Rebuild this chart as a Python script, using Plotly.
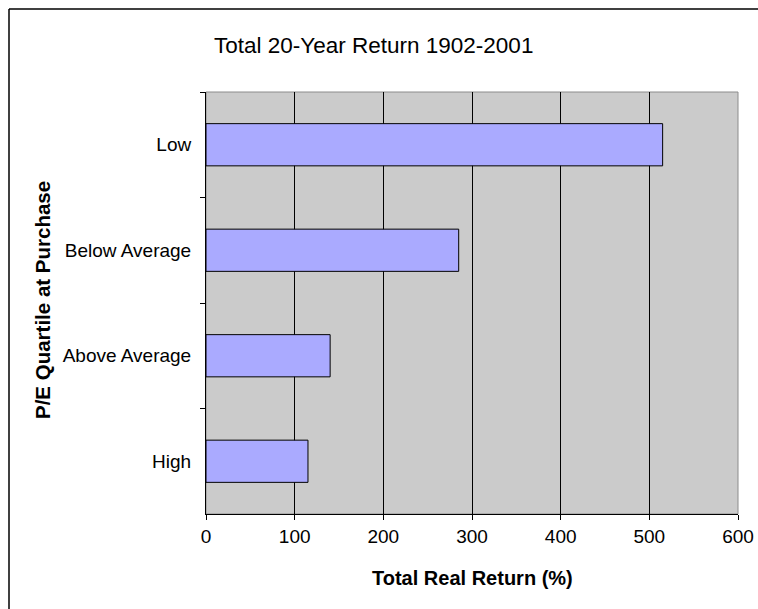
import plotly.graph_objects as go

# P/E quartile at purchase and the total real return over the following 20 years
quartiles = ["Low", "Below Average", "Above Average", "High"]
returns_pct = [515, 285, 140, 115]
x_ticks = [0, 100, 200, 300, 400, 500, 600]

FONT = "Liberation Sans, Arial, sans-serif"

fig = go.Figure(
    go.Bar(
        x=returns_pct,
        y=quartiles,
        orientation="h",
        marker=dict(color="#aaaaff", line=dict(color="#000000", width=1)),
        hoverinfo="x+y",
    )
)

fig.update_layout(
    width=758,
    height=609,
    margin=dict(l=206, r=20, t=92, b=95),
    paper_bgcolor="#ffffff",
    plot_bgcolor="#cbcbcb",
    bargap=0.6,
    showlegend=False,
    font=dict(family=FONT, size=19, color="#000000"),
)

fig.update_xaxes(
    range=[0, 600],
    tickvals=x_ticks,
    ticktext=[str(v) for v in x_ticks],
    showgrid=True,
    gridcolor="#000000",
    gridwidth=1,
    zeroline=False,
    showline=True,
    linecolor="#000000",
    linewidth=1,
    ticks="outside",
    ticklen=5,
    tickcolor="#000000",
    tickfont=dict(size=19),
    automargin=False,
)

fig.update_yaxes(
    type="category",
    categoryorder="array",
    categoryarray=quartiles,
    autorange="reversed",
    tickson="boundaries",
    showgrid=False,
    zeroline=False,
    showline=True,
    linecolor="#000000",
    linewidth=1,
    ticks="outside",
    ticklen=5,
    tickcolor="#000000",
    ticklabelstandoff=10,
    tickfont=dict(size=19),
    automargin=False,
)

# plot-area frame (top and right edges in grey)
fig.add_shape(type="rect", xref="paper", yref="paper", x0=0, x1=1, y0=0, y1=1,
              line=dict(color="#8c8c8c", width=1), layer="below")

# outer chart border: only its left and top edges fall inside the page
left_px, top_px = 9, 9
bx = (left_px - 206) / 532
by = (514 - top_px) / 422
fig.add_shape(type="line", xref="paper", yref="paper", x0=bx, x1=bx, y0=by, y1=-0.3,
              line=dict(color="#000000", width=1.5))
fig.add_shape(type="line", xref="paper", yref="paper", x0=bx, x1=1.2, y0=by, y1=by,
              line=dict(color="#000000", width=1.5))

fig.add_annotation(text="Total 20-Year Return 1902-2001", xref="paper", yref="paper",
                   x=(373 - 206) / 532, y=(514 - 45) / 422, xanchor="center", yanchor="middle",
                   showarrow=False, font=dict(family=FONT, size=22.5))
fig.add_annotation(text="<b>Total Real Return (%)</b>", xref="paper", yref="paper",
                   x=0.5, y=(514 - 578) / 422, xanchor="center", yanchor="middle",
                   showarrow=False, font=dict(family=FONT, size=20))
fig.add_annotation(text="<b>P/E Quartile at Purchase</b>", xref="paper", yref="paper",
                   x=(42 - 206) / 532, y=(514 - 300) / 422, xanchor="center", yanchor="middle",
                   textangle=-90, showarrow=False, font=dict(family=FONT, size=20.5))

fig.write_html("out.html")
